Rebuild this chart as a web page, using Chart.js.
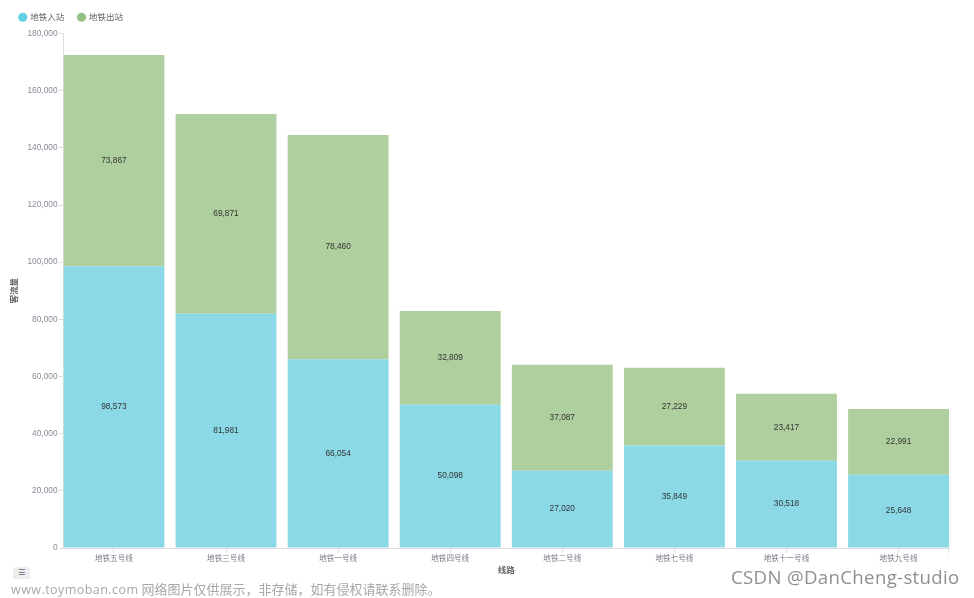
<!DOCTYPE html>
<html lang="zh">
<head>
  <meta charset="UTF-8">
  <title>线路客流量</title>
  <style>
    html, body { margin: 0; padding: 0; background: #fff; overflow: hidden; }
    #wrap { position: relative; width: 974px; height: 598px; }
    #chart { position: absolute; left: 0; top: 0; }
    .mark { position: absolute; white-space: nowrap; color: #a8a8a8; }
    #site { left: 11px; top: 580px; font: 13px "Noto Sans CJK SC", sans-serif; line-height: 18px; }
    #site span { font: 12.5px "Open Sans", sans-serif; letter-spacing: 0.45px; }
    #csdn { left: 731px; top: 563px; font: 18.6px "Open Sans", sans-serif; line-height: 28px; color: #8f8f8f; letter-spacing: 0.35px; }
    #toggle { position: absolute; left: 13px; top: 567px; width: 17px; height: 12px; background: #eee; border-radius: 3px 3px 0 0; color: #667; font: 8px/12px "DejaVu Sans", sans-serif; text-align: center; }
  </style>
</head>
<body>
<div id="wrap">
  <canvas id="chart" width="974" height="598"></canvas>
  <div id="toggle">☰</div>
  <div class="mark" id="site"><span>www.toymoban.com</span> 网络图片仅供展示，非存储，如有侵权请联系删除。</div>
  <div class="mark" id="csdn">CSDN @DanCheng-studio</div>
</div>

<script src="https://cdn.jsdelivr.net/npm/chart.js"></script>
<script>
  const lines = ['地铁五号线', '地铁三号线', '地铁一号线', '地铁四号线', '地铁二号线', '地铁七号线', '地铁十一号线', '地铁九号线'];
  const entering = [98573, 81981, 66054, 50098, 27020, 35849, 30518, 25648];
  const leaving = [73867, 69871, 78460, 32809, 37087, 27229, 23417, 22991];
  const yTicks = [0, 20000, 40000, 60000, 80000, 100000, 120000, 140000, 160000, 180000];

  const cjk = '"Noto Sans CJK SC", sans-serif';
  const latin = '"Liberation Sans", sans-serif';
  const legendColors = ['#62cfe2', '#97c184'];

  // 柱子紧贴两端，刻度在柱子中心
  const CategoryScale = Chart.registry.getScale('category');
  class TightCategory extends CategoryScale {
    configure() {
      super.configure();
      this._startValue = this.min - 0.45;
      this._valueRange = this.max - this.min + 0.9;
    }
  }
  TightCategory.id = 'tightCategory';
  TightCategory.defaults = CategoryScale.defaults;
  Chart.register(TightCategory);

  // 每段柱子中间的数字，x 轴末端的小刻度
  const barLabels = {
    id: 'barLabels',
    afterLayout(chart) {
      chart.legend.left += 5.5;
      chart.legend.top -= 2;
    },
    afterDatasetsDraw(chart) {
      const ctx = chart.ctx;
      ctx.save();
      ctx.font = '8.3px ' + latin;
      ctx.fillStyle = '#333';
      ctx.textAlign = 'center';
      ctx.textBaseline = 'middle';
      chart.data.datasets.forEach((ds, d) => {
        chart.getDatasetMeta(d).data.forEach((bar, i) => {
          ctx.fillText(ds.data[i].toLocaleString('en-US'), bar.x, (bar.y + bar.base) / 2);
        });
      });
      const x = chart.scales.x;
      ctx.strokeStyle = '#ddd';
      ctx.beginPath();
      ctx.moveTo(x.right - 0.5, x.top);
      ctx.lineTo(x.right - 0.5, x.top + 5);
      ctx.stroke();
      ctx.restore();
    }
  };

  new Chart(document.getElementById('chart'), {
    type: 'bar',
    data: {
      labels: lines,
      datasets: [
        { label: '地铁入站', data: entering, backgroundColor: '#8bd8e6' },
        { label: '地铁出站', data: leaving, backgroundColor: '#afcf9f' }
      ]
    },
    options: {
      responsive: false,
      animation: false,
      layout: { padding: { left: 0, right: 25, top: 1, bottom: 20 } },
      datasets: { bar: { categoryPercentage: 0.9, barPercentage: 1 } },
      plugins: {
        tooltip: { enabled: false },
        legend: {
          position: 'top',
          align: 'start',
          labels: {
            usePointStyle: true,
            pointStyle: 'circle',
            boxWidth: 6.5,
            boxHeight: 6.5,
            padding: 14,
            color: '#666',
            font: { size: 8.5, family: cjk },
            generateLabels(chart) {
              return chart.data.datasets.map((ds, i) => ({
                text: ds.label,
                fillStyle: legendColors[i],
                strokeStyle: legendColors[i],
                fontColor: '#666',
                lineWidth: 0,
                pointStyle: 'circle',
                datasetIndex: i
              }));
            }
          }
        }
      },
      scales: {
        x: {
          type: 'tightCategory',
          stacked: true,
          grid: { offset: false, drawOnChartArea: false, drawTicks: true, tickLength: 5, color: '#ddd' },
          border: { color: '#ddd' },
          ticks: { color: '#7a7a8a', font: { size: 7.6, family: cjk }, padding: 1, maxRotation: 0, autoSkip: false },
          title: { display: true, text: '线路', color: '#666', font: { size: 8.5, family: cjk, weight: 'bold' }, padding: { top: 0, bottom: 3 } },
          afterFit(scale) { scale.height = 30; }
        },
        y: {
          stacked: true,
          min: 0,
          max: 180000,
          afterBuildTicks(scale) { scale.ticks = yTicks.map(v => ({ value: v })); },
          grid: { drawOnChartArea: false, drawTicks: true, tickLength: 5, color: '#ddd' },
          border: { color: '#ddd' },
          ticks: {
            color: '#8a8a9a',
            font: { size: 8.3, family: latin },
            padding: 1,
            callback: v => v.toLocaleString('en-US')
          },
          title: { display: true, text: '客流量', color: '#666', font: { size: 8.5, family: cjk, weight: 'bold' }, padding: { top: 9, bottom: 0 } },
          afterFit(scale) { scale.width = 63.5; }
        }
      }
    },
    plugins: [barLabels]
  });
</script>
</body>
</html>
